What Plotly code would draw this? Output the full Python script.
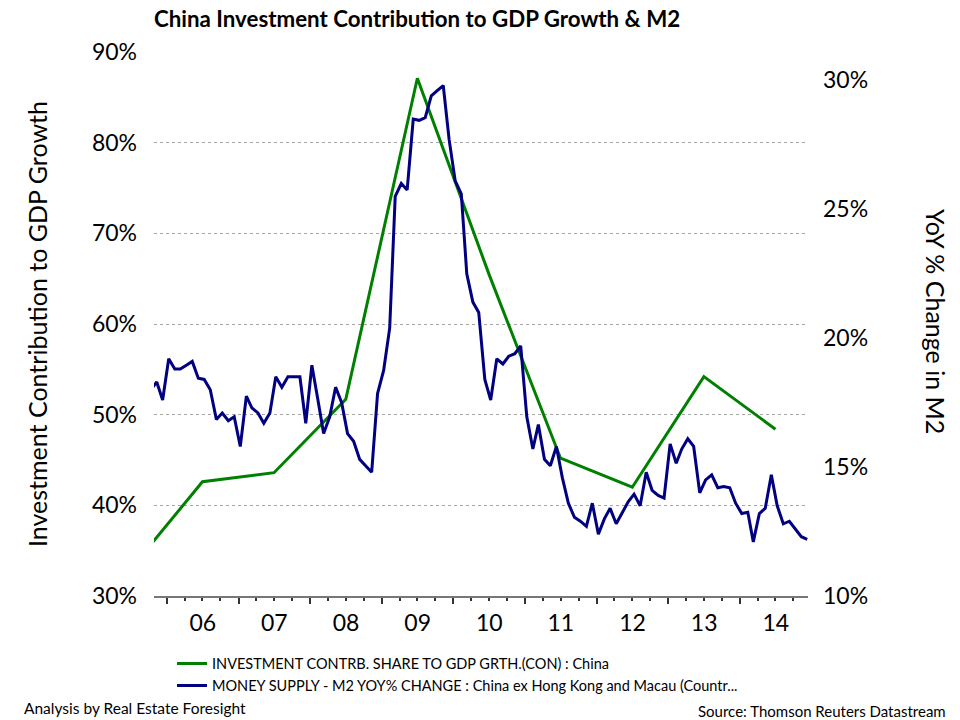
import plotly.graph_objects as go

# annual investment contribution to GDP growth (%), plotted mid-year
inv_years = [2005, 2006, 2007, 2008, 2009, 2010, 2011, 2012, 2013, 2014]
inv_share = [33.0, 42.6, 43.6, 51.7, 87.1, 65.5, 45.2, 42.0, 54.2, 48.4]

# monthly M2 YoY % change, Oct 2005 - Dec 2014
m2_start = (2005, 10)
m2_yoy = [
    18.0, 18.3, 17.6,
    19.2, 18.8, 18.8, 18.95, 19.1, 18.45, 18.4, 18.0, 16.85, 17.1, 16.8, 16.95,
    15.8, 17.75, 17.3, 17.1, 16.7, 17.1, 18.5, 18.1, 18.5, 18.5, 18.5, 16.7,
    18.95, 17.6, 16.3, 16.95, 18.1, 17.5, 16.3, 16.0, 15.3, 15.05, 14.8, 17.85,
    18.75, 20.4, 25.5, 26.0, 25.75, 28.5, 28.45, 28.55, 29.4, 29.6, 29.8, 27.7,
    26.1, 25.6, 22.5, 21.4, 21.0, 18.4, 17.6, 19.2, 19.0, 19.3, 19.4, 19.7,
    16.95, 15.7, 16.65, 15.3, 15.05, 15.8, 14.6, 13.6, 13.05, 12.9, 12.7, 13.6,
    12.4, 13.0, 13.4, 12.8, 13.2, 13.65, 13.95, 13.5, 14.8, 14.1, 13.9, 13.8,
    15.9, 15.15, 15.7, 16.1, 15.8, 14.0, 14.5, 14.7, 14.2, 14.25, 14.2, 13.6,
    13.2, 13.25, 12.1, 13.2, 13.4, 14.7, 13.5, 12.8, 12.9, 12.6, 12.3, 12.2,
]

left_ticks = [30, 40, 50, 60, 70, 80, 90]
right_ticks = [10, 15, 20, 25, 30]

inv_dates = ["%d-07-01" % y for y in inv_years]
m2_dates = []
y, m = m2_start
for _ in m2_yoy:
    m2_dates.append("%d-%02d-10" % (y, m))
    m += 1
    if m > 12:
        m = 1
        y += 1

FONT = "Lato"
fig = go.Figure()
fig.add_trace(go.Scatter(
    x=inv_dates, y=inv_share, mode="lines",
    line=dict(color="#008000", width=3),
    name="INVESTMENT CONTRB. SHARE TO GDP GRTH.(CON) : China",
))
fig.add_trace(go.Scatter(
    x=m2_dates, y=m2_yoy, mode="lines", yaxis="y2",
    line=dict(color="#000080", width=3),
    name="MONEY SUPPLY - M2 YOY% CHANGE : China ex Hong Kong and Macau (Countr...",
))

fig.update_layout(
    width=960, height=720,
    margin=dict(l=154, r=152, t=52, b=124),
    paper_bgcolor="white", plot_bgcolor="white",
    font=dict(family=FONT, color="black"),
    title=dict(text="<b>China Investment Contribution to GDP Growth & M2</b>",
               x=154 / 960, xanchor="left", y=1 - 19 / 720, yanchor="middle",
               font=dict(size=22.3, family=FONT)),
    xaxis=dict(
        type="date", range=["2005-10-27", "2014-12-14"],
        dtick="M12", tick0="2000-01-01", tickformat="%y", ticklabelmode="period",
        ticks="outside", ticklen=6, tickwidth=1.5, tickcolor="#333",
        minor=dict(dtick="M3", ticks="outside", ticklen=3, tickcolor="#333"),
        showline=True, linecolor="#777", linewidth=1.5,
        showgrid=False, tickfont=dict(size=23), ticklabelstandoff=0,
    ),
    yaxis=dict(
        range=[30, 90], tickvals=left_ticks,
        ticktext=["%d%%" % v for v in left_ticks],
        showgrid=True, gridcolor="#a6a6a6", griddash="dot", gridwidth=1,
        zeroline=False, showline=False, tickfont=dict(size=23),
        ticklabelstandoff=16,
    ),
    yaxis2=dict(
        range=[10, 31.1], tickvals=right_ticks,
        ticktext=["%d%%" % v for v in right_ticks],
        overlaying="y", side="right", showgrid=False, zeroline=False,
        showline=False, tickfont=dict(size=23), ticklabelstandoff=14,
    ),
    legend=dict(x=(172 - 154) / 654, y=-0.095, xanchor="left", yanchor="top",
                font=dict(size=14.5), bgcolor="rgba(0,0,0,0)"),
    showlegend=True,
)

fig.add_annotation(text="Investment Contribution to GDP Growth", textangle=-90,
                   xref="paper", yref="paper", x=(37 - 154) / 654, y=(596 - 324) / 544,
                   xanchor="center", yanchor="middle",
                   showarrow=False, font=dict(size=25))
fig.add_annotation(text="YoY % Change in M2", textangle=90,
                   xref="paper", yref="paper", x=(936 - 154) / 654, y=(596 - 321) / 544,
                   xanchor="center", yanchor="middle",
                   showarrow=False, font=dict(size=25))
fig.add_annotation(text="Analysis by Real Estate Foresight",
                   xref="paper", yref="paper", x=(22 - 154) / 654, y=(596 - 708) / 544,
                   xanchor="left", yanchor="middle", showarrow=False, font=dict(size=15.5))
fig.add_annotation(text="Source: Thomson Reuters Datastream",
                   xref="paper", yref="paper", x=(948 - 154) / 654, y=(596 - 711) / 544,
                   xanchor="right", yanchor="middle", showarrow=False, font=dict(size=15))

fig.write_html("out.html", config={"displayModeBar": False},
               post_script="document.body.style.margin='0';")
